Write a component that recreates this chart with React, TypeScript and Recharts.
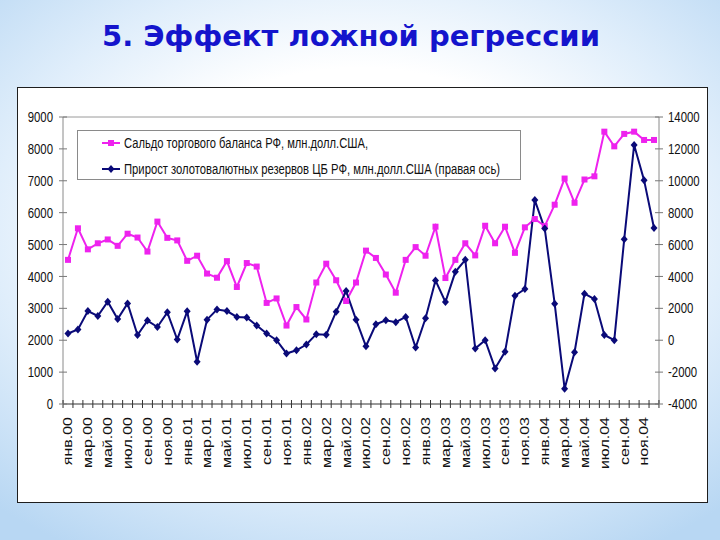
import React from 'react';
import { LineChart, Line, XAxis, YAxis, ReferenceLine } from 'recharts';

const months = ['янв', 'фев', 'мар', 'апр', 'май', 'июн', 'июл', 'авг', 'сен', 'окт', 'ноя', 'дек'];
const years = ['00', '01', '02', '03', '04'];

// Сальдо торгового баланса РФ, млн.долл.США (левая ось)
const tradeBalance = [
  4520, 5510, 4850, 5040, 5160, 4960, 5340, 5220, 4780, 5720, 5210, 5130,
  4490, 4650, 4090, 3960, 4480, 3670, 4420, 4310, 3170, 3310, 2460, 3040,
  2650, 3810, 4400, 3880, 3230, 3810, 4810, 4580, 4060, 3490, 4520, 4920,
  4650, 5560, 3950, 4520, 5040, 4660, 5590, 5040, 5560, 4740, 5540, 5800,
  5580, 6250, 7070, 6310, 7040, 7140, 8540, 8080, 8470, 8540, 8280, 8280,
];

// Прирост золотовалютных резервов ЦБ РФ, млн.долл.США (правая ось)
const reserveGrowth = [
  420, 670, 1830, 1520, 2420, 1330, 2310, 330, 1230, 830, 1750, 40,
  1810, -1350, 1290, 1920, 1830, 1460, 1420, 920, 420, 0, -830, -630,
  -270, 380, 350, 1790, 3080, 1290, -380, 1000, 1250, 1130, 1460, -460,
  1380, 3750, 2400, 4290, 5040, -520, 0, -1770, -730, 2790, 3210, 8790,
  7000, 2290, -3040, -750, 2920, 2580, 330, 0, 6330, 12250, 10040, 7040,
];

const leftTicks = [0, 1000, 2000, 3000, 4000, 5000, 6000, 7000, 8000, 9000];
const rightTicks = [-4000, -2000, 0, 2000, 4000, 6000, 8000, 10000, 12000, 14000];

const categories = years.flatMap((y) => months.map((m) => `${m}.${y}`));

const data = categories.map((label, i) => ({
  label,
  trade: tradeBalance[i],
  reserves: reserveGrowth[i],
}));

const PINK = '#ee22ee';
const NAVY = '#0a0a78';
const FONT = "'Liberation Sans', Arial, sans-serif";
const SQUISH = 0.78;

// plot spans 596px, 60 points with half-step padding at each side
const STEP = 586 / 59;

const XTick = (props: any) => {
  const { x, y, payload } = props;
  const i = props.index ?? payload.index;
  return (
    <g>
      <line x1={x - STEP / 2} x2={x - STEP / 2} y1={y - 4} y2={y + 4} stroke="#333" />
      {i === data.length - 1 && (
        <line x1={x + STEP / 2} x2={x + STEP / 2} y1={y - 4} y2={y + 4} stroke="#333" />
      )}
      {i % 2 === 0 && (
        <text
          transform={`translate(${x},${y + 13}) scale(0.8,1) rotate(-90)`}
          textAnchor="end"
          dominantBaseline="central"
          fontSize={16}
          fontFamily={FONT}
          fill="#111"
        >
          {payload.value}
        </text>
      )}
    </g>
  );
};

const LeftTick = (props: any) => {
  const { x, y, payload } = props;
  return (
    <g>
      <line x1={x - 4} x2={x + 4} y1={y} y2={y} stroke="#777" />
      <text
        transform={`translate(${x - 10},${y}) scale(0.76,1)`}
        textAnchor="end"
        dominantBaseline="central"
        fontSize={15}
        fontFamily={FONT}
        fill="#111"
      >
        {payload.value}
      </text>
    </g>
  );
};

const RightTick = (props: any) => {
  const { x, y, payload } = props;
  return (
    <g>
      <line x1={x - 4} x2={x + 4} y1={y} y2={y} stroke="#777" />
      <text
        transform={`translate(${x + 9},${y}) scale(0.76,1)`}
        textAnchor="start"
        dominantBaseline="central"
        fontSize={15}
        fontFamily={FONT}
        fill="#111"
      >
        {payload.value}
      </text>
    </g>
  );
};

const SquareDot = (p: any) => (
  <rect key={`s-${p.index}`} x={p.cx - 3} y={p.cy - 3} width={6} height={6} fill={PINK} />
);

const DiamondDot = (p: any) => (
  <polygon
    key={`d-${p.index}`}
    points={`${p.cx},${p.cy - 4} ${p.cx + 3.5},${p.cy} ${p.cx},${p.cy + 4} ${p.cx - 3.5},${p.cy}`}
    fill={NAVY}
  />
);

export default function App() {
  return (
    <div
      style={{
        position: 'absolute',
        left: 0,
        top: 0,
        width: 720,
        height: 540,
        overflow: 'hidden',
        background:
          'radial-gradient(ellipse 75% 70% at 50% 42%, #ffffff 42%, #e0eefb 68%, #b8d7f3 100%)',
      }}
    >
      {/* Title */}
      <svg width={720} height={80} style={{ position: 'absolute', left: 0, top: 0 }}>
        <text
          x={102}
          y={46}
          fontFamily="'DejaVu Sans', Verdana, sans-serif"
          fontWeight="bold"
          fontSize={29}
          textLength={498}
          lengthAdjust="spacingAndGlyphs"
          fill="#1414cc"
        >
          5. Эффект ложной регрессии
        </text>
      </svg>

      {/* White chart frame */}
      <div
        style={{
          position: 'absolute',
          left: 17,
          top: 87,
          width: 691,
          height: 416,
          boxSizing: 'border-box',
          border: '1.5px solid #1e1e1e',
          background: '#ffffff',
        }}
      />

      <div style={{ position: 'absolute', left: 0, top: 0 }}>
        <LineChart width={720} height={540} data={data} margin={{ top: 117, right: 11, bottom: 86, left: 13 }}>
          <XAxis
            dataKey="label"
            interval={0}
            height={50}
            padding={{ left: 5, right: 5 }}
            tickSize={0}
            tickMargin={0}
            tickLine={false}
            axisLine={{ stroke: '#333' }}
            tick={<XTick />}
          />
          <YAxis
            yAxisId="left"
            width={50}
            domain={[0, 9000]}
            ticks={leftTicks}
            allowDataOverflow
            tickSize={0}
            tickMargin={0}
            tickLine={false}
            axisLine={{ stroke: '#8a8a8a' }}
            tick={<LeftTick />}
          />
          <YAxis
            yAxisId="right"
            orientation="right"
            width={50}
            domain={[-4000, 14000]}
            ticks={rightTicks}
            allowDataOverflow
            tickSize={0}
            tickMargin={0}
            tickLine={false}
            axisLine={{ stroke: '#8a8a8a' }}
            tick={<RightTick />}
          />
          <ReferenceLine yAxisId="left" y={9000} stroke="#9a9a9a" />
          <Line
            yAxisId="left"
            type="linear"
            dataKey="trade"
            stroke={PINK}
            strokeWidth={2}
            dot={SquareDot}
            activeDot={false}
            isAnimationActive={false}
          />
          <Line
            yAxisId="right"
            type="linear"
            dataKey="reserves"
            stroke={NAVY}
            strokeWidth={2}
            dot={DiamondDot}
            activeDot={false}
            isAnimationActive={false}
          />
        </LineChart>
      </div>

      {/* Legend */}
      <div
        style={{
          position: 'absolute',
          left: 77,
          top: 130,
          width: 444,
          height: 50,
          boxSizing: 'border-box',
          border: '1px solid #8a8a8a',
          background: '#ffffff',
        }}
      >
        <svg width={444} height={50} style={{ position: 'absolute', left: -1, top: -1 }}>
          <line x1={25} x2={43} y1={13} y2={13} stroke={PINK} strokeWidth={2} />
          <rect x={31} y={10} width={6} height={6} fill={PINK} />
          <text
            transform={`translate(47,13) scale(${SQUISH},1)`}
            dominantBaseline="central"
            fontSize={15}
            fontFamily={FONT}
            textLength={244 / SQUISH}
            lengthAdjust="spacingAndGlyphs"
            fill="#111"
          >
            Сальдо торгового баланса РФ, млн.долл.США,
          </text>
          <line x1={25} x2={43} y1={39} y2={39} stroke={NAVY} strokeWidth={2} />
          <polygon points="34,35 37.5,39 34,43 30.5,39" fill={NAVY} />
          <text
            transform={`translate(47,39) scale(${SQUISH},1)`}
            dominantBaseline="central"
            fontSize={15}
            fontFamily={FONT}
            textLength={376 / SQUISH}
            lengthAdjust="spacingAndGlyphs"
            fill="#111"
          >
            Прирост золотовалютных резервов ЦБ РФ, млн.долл.США (правая ось)
          </text>
        </svg>
      </div>
    </div>
  );
}
